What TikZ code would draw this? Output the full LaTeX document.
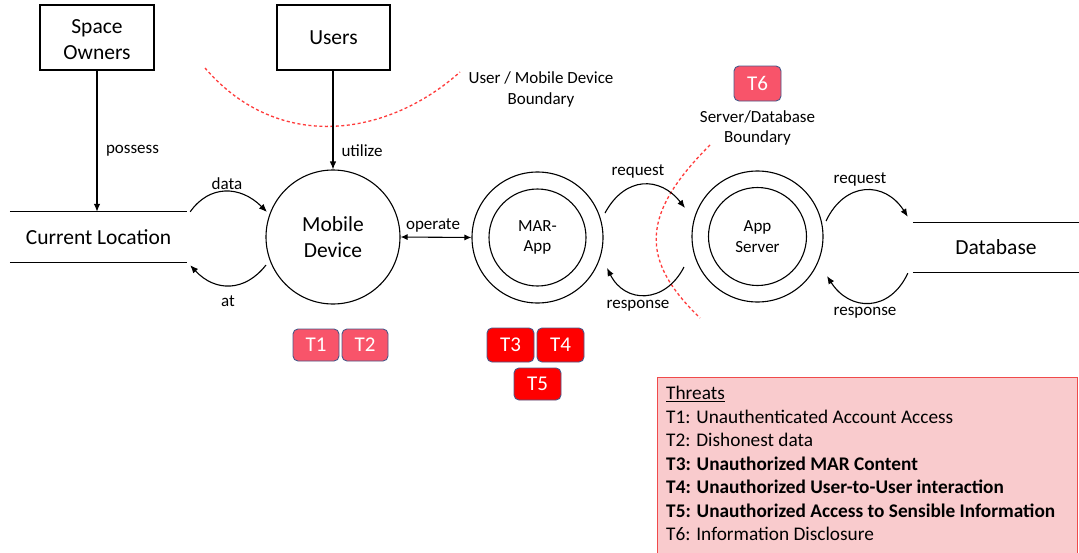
\documentclass[tikz,border=0pt]{standalone}
\usepackage{fontspec}
\setmainfont{Carlito}
\usetikzlibrary{arrows.meta,calc}
\definecolor{tpink}{HTML}{F8546A}
\definecolor{tred}{HTML}{FF0000}
\definecolor{tedge}{HTML}{4A5888}
\definecolor{boxfill}{HTML}{F9CBCD}
\definecolor{boxedge}{HTML}{F04A4A}
\definecolor{bound}{HTML}{FF3B3B}
\tikzset{
  big/.style={font=\fontsize{21.5}{26}\selectfont},
  lbl/.style={font=\fontsize{17}{21}\selectfont, inner sep=0pt},
  entity/.style={draw, line width=1.1pt, big, align=center, inner sep=0pt},
  store/.style={big, inner sep=0pt},
  proc/.style={draw, circle, line width=1.1pt, big, align=center, inner sep=0pt, minimum size=134},
  outer/.style={draw, circle, line width=1.1pt, inner sep=0pt, minimum size=131},
  inner/.style={draw, circle, line width=1.1pt, inner sep=0pt, minimum size=97,
                font=\fontsize{17}{20.5}\selectfont, align=center},
  flow/.style={line width=1.1pt, -{Latex[length=8pt,width=6.5pt]}},
  tag/.style={rounded corners=5pt, draw=tedge, line width=0.9pt, text=white,
              font=\fontsize{21}{24}\selectfont, minimum width=47, minimum height=33, inner sep=0pt},
  tagA/.style={tag, fill=tpink},
  tagB/.style={tag, fill=tred},
  boundary/.style={draw=bound, line width=1.3pt, dash pattern=on 3pt off 2.5pt},
  tline/.style={anchor=west, inner sep=0pt, text height=13.5, text depth=4.5,
                font=\fontsize{19.3}{23}\selectfont},
}
\begin{document}
\begin{tikzpicture}[x=1pt,y=-1pt]
\useasboundingbox (0,0) rectangle (1079,552);
\fill[white] (0,0) rectangle (1079,552);

% external entities
\node[entity, minimum width=114, minimum height=65] (so) at (97,37.5) {};
\node[big, align=center, inner sep=0pt] (sot) at ($(so.center)+(0,2)$) {Space\\Owners};
\node[entity, minimum width=113, minimum height=65] (us) at (333.5,37.5) {Users};

% data stores
\node[store, minimum width=177, minimum height=50] (cl) at (98.5,237) {Current Location};
\draw[line width=1.1pt] (cl.north west) -- (cl.north east) (cl.south west) -- (cl.south east);
\node[store, minimum width=166, minimum height=49] (db) at (996,247.5) {Database};
\draw[line width=1.1pt] (db.north west) -- (db.north east) (db.south west) -- (db.south east);

% processes
\node[proc] (md) at (333,237) {Mobile\\Device};
\node[outer] (mar) at (537.5,237.5) {};
\node[inner] (mari) at (mar.center) {MAR-\\App};
\node[outer] (asv) at (757.5,236.5) {};
\node[inner, minimum size=98] (asvi) at (asv.center) {App\\Server};

% trust boundaries
\draw[boundary] (205,68) .. controls (280,155) and (390,135) .. (460,72);
\node[lbl, align=center] (ubl) at (541,89.5) {User / Mobile Device\\Boundary};
\draw[boundary] (710,145) .. controls (640,215) and (640,260) .. (700,318);
\node[lbl, align=center, font=\fontsize{17}{20}\selectfont] (sbl) at (757.5,128) {Server/Database\\Boundary};

% flows
\draw[flow] (so.south) -- (so.south |- cl.north);
\node[lbl] at (132.5,151) {possess};
\draw[flow] (us.south -| md.north) -- (md.north);
\node[lbl] at (362,151) {utilize};

\draw[flow] ($(cl.north east)+(3,0)$) .. controls ($(cl.north east)+(22,-27)$) and ($(md.center)+(-93,-52)$) .. ($(md.center)+(-66,-25)$);
\node[lbl] at (227,184) {data};
\draw[flow] ($(md.center)+(-67,28)$) .. controls ($(md.center)+(-88,55)$) and ($(cl.south east)+(28,30)$) .. ($(cl.south east)+(3,3)$);
\node[lbl] at (228,301) {at};

\draw[line width=1.1pt, {Latex[length=7pt,width=6pt]}-{Latex[length=7pt,width=6pt]}] (md.east) -- (mar.west);
\node[lbl] at (433,225) {operate};

\draw[flow] ($(mar.center)+(67.5,-24.5)$) .. controls ($(mar.center)+(87.5,-61.5)$) and ($(asv.center)+(-97.5,-60.5)$) .. ($(asv.center)+(-72.5,-28.5)$);
\node[lbl] at (638,171) {request};
\draw[flow] ($(asv.center)+(-73.5,30.5)$) .. controls ($(asv.center)+(-92.5,67.5)$) and ($(mar.center)+(87.5,66.5)$) .. ($(mar.center)+(69.5,30.5)$);
\node[lbl] at (638,306) {response};

\draw[flow] ($(asv.center)+(68.5,-15.5)$) .. controls ($(asv.center)+(87.5,-55.5)$) and ($(db.north west)+(-28,-42)$) .. ($(db.north west)+(-5,-6)$);
\node[lbl] at (860,179) {request};
\draw[flow] ($(db.south west)+(-5,1)$) .. controls ($(db.south west)+(-23,40)$) and ($(asv.center)+(92.5,75.5)$) .. ($(asv.center)+(69.5,39.5)$);
\node[lbl] at (865,313) {response};

% threat tags
\node[tagA, minimum width=46, minimum height=32] (t1) at (316,345) {T1};
\node[tagA, minimum width=46, minimum height=32] (t2) at (365,345) {T2};
\node[tagB, minimum height=34] (t3) at (510.5,345) {T3};
\node[tagB, minimum height=34] (t4) at (560.5,345) {T4};
\node[tagB, minimum height=32] (t5) at (537.5,384) {T5};
\node[tagA, minimum height=35] (t6) at (757.5,83.5) {T6};

% threat legend
\node[draw=boxedge, fill=boxfill, line width=1.2pt, anchor=north west,
      minimum width=420, minimum height=185, inner sep=0pt] (legend) at (657,377) {};
\node[tline] (l0) at (666,395) {\underline{Threats}};
\node[tline] (l1) at (666,419) {T1: Unauthenticated Account Access};
\node[tline] (l2) at (666,442) {T2: Dishonest data};
\node[tline] (l3) at (666,465.5) {\bfseries T3: Unauthorized MAR Content};
\node[tline] (l4) at (666,489) {\bfseries T4: Unauthorized User-to-User interaction};
\node[tline] (l5) at (666,512.5) {\bfseries T5: Unauthorized Access to Sensible Information};
\node[tline] (l6) at (666,536) {T6: Information Disclosure};
\end{tikzpicture}
\end{document}
